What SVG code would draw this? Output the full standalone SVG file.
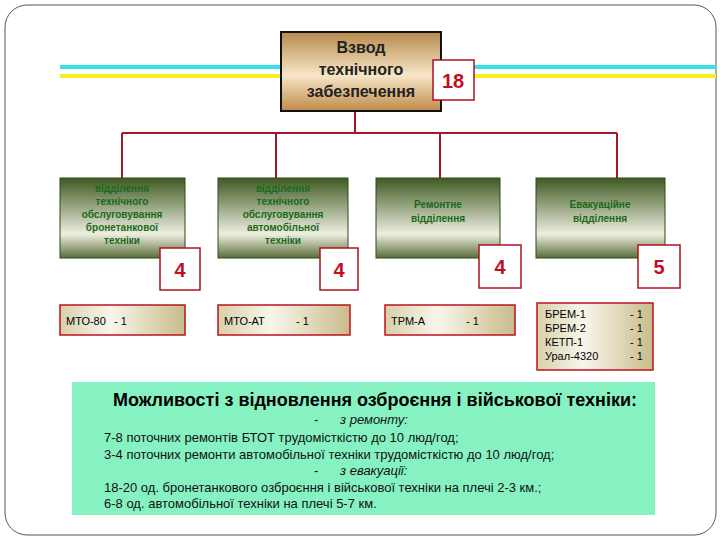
<svg xmlns="http://www.w3.org/2000/svg" width="720" height="540" viewBox="0 0 720 540">
<defs>
<linearGradient id="gtop" x1="0" y1="0" x2="0" y2="1"><stop offset="0" stop-color="#b98a4c"/><stop offset="0.55" stop-color="#f6e6c8"/><stop offset="1" stop-color="#c08a4a"/></linearGradient>
<linearGradient id="ggreen" x1="0" y1="0" x2="0" y2="1"><stop offset="0" stop-color="#3e5a22"/><stop offset="0.7" stop-color="#eeeee0"/><stop offset="1" stop-color="#5a6e3a"/></linearGradient>
<linearGradient id="gbot" x1="0" y1="0" x2="1" y2="0"><stop offset="0" stop-color="#d8d0a8"/><stop offset="0.4" stop-color="#f8f6ec"/><stop offset="1" stop-color="#c8bc8a"/></linearGradient>
<style>
.bx{fill:url(#ggreen);stroke:#2e4a1a;stroke-width:1}
.gt{font-family:"Liberation Sans",Arial,sans-serif;font-size:10px;font-weight:bold;fill:#1a6a1a;text-anchor:middle}
.badge{fill:#fff;stroke:#b01020;stroke-width:1.5}
.bt{font-family:"Liberation Sans",Arial,sans-serif;font-size:20px;font-weight:bold;fill:#c01020;text-anchor:middle}
.bb{fill:url(#gbot);stroke:#c01020;stroke-width:1.5}
.lt{font-family:"Liberation Sans",Arial,sans-serif;font-size:11px;fill:#000}
.pt{font-family:"Liberation Sans",Arial,sans-serif;font-size:13px;fill:#111}
.con{stroke:#a01828;stroke-width:2;fill:none}
</style>
</defs>
<rect x="0" y="0" width="720" height="540" fill="#fff"/>
<rect x="5" y="5" width="711" height="530" rx="22" fill="none" stroke="#555" stroke-width="1"/>
<rect x="60" y="65" width="656" height="4" fill="#33e0f0"/>
<rect x="60" y="74" width="656" height="4" fill="#f6f020"/>
<g id="connectors">
<path class="con" d="M355 111V133M122 133H617M122 133V178M276 133V178M440 133V178M617 133V178"/>
</g>
<g id="top">
<rect x="281" y="32" width="160" height="79" fill="url(#gtop)" stroke="#111" stroke-width="2"/>
<text font-family="Liberation Sans,Arial,sans-serif" font-size="16" font-weight="bold" text-anchor="middle" fill="#222"><tspan x="361" y="53">Взвод</tspan><tspan x="361" y="75">технічного</tspan><tspan x="361" y="97">забезпечення</tspan></text>
<rect class="badge" x="433" y="60" width="41" height="40"/><text class="bt" x="453" y="88">18</text>
</g>
<g id="n1"><rect class="bx" x="60" y="178" width="125" height="80"/><text class="gt"><tspan x="122" y="192">відділення</tspan><tspan x="122" y="205">технічного</tspan><tspan x="122" y="218">обслуговування</tspan><tspan x="122" y="231">бронетанкової</tspan><tspan x="122" y="244">техніки</tspan></text>
<rect class="badge" x="160" y="248" width="40" height="42"/><text class="bt" x="180" y="277">4</text></g>
<g id="n2"><rect class="bx" x="218" y="178" width="130" height="80"/><text class="gt"><tspan x="283" y="192">відділення</tspan><tspan x="283" y="205">технічного</tspan><tspan x="283" y="218">обслуговування</tspan><tspan x="283" y="231">автомобільної</tspan><tspan x="283" y="244">техніки</tspan></text>
<rect class="badge" x="320" y="248" width="38" height="42"/><text class="bt" x="339" y="277">4</text></g>
<g id="n3"><rect class="bx" x="376" y="178" width="124" height="80"/><text class="gt"><tspan x="438" y="208">Ремонтне</tspan><tspan x="438" y="222">відділення</tspan></text>
<rect class="badge" x="479" y="245" width="42" height="43"/><text class="bt" x="500" y="274">4</text></g>
<g id="n4"><rect class="bx" x="536" y="178" width="129" height="80"/><text class="gt"><tspan x="600" y="208">Евакуаційне</tspan><tspan x="600" y="222">відділення</tspan></text>
<rect class="badge" x="638" y="245" width="42" height="43"/><text class="bt" x="659" y="274">5</text></g>
<g id="b1"><rect class="bb" x="60" y="305" width="125" height="30"/><text class="lt" x="66" y="325">МТО-80</text><text class="lt" x="114" y="325">- 1</text></g>
<g id="b2"><rect class="bb" x="218" y="305" width="132" height="30"/><text class="lt" x="224" y="325">МТО-АТ</text><text class="lt" x="296" y="325">- 1</text></g>
<g id="b3"><rect class="bb" x="385" y="305" width="130" height="30"/><text class="lt" x="391" y="325">ТРМ-А</text><text class="lt" x="466" y="325">- 1</text></g>
<g id="b4"><rect class="bb" x="537" y="303" width="116" height="67"/><text class="lt"><tspan x="545" y="318">БРЕМ-1</tspan><tspan x="545" y="332">БРЕМ-2</tspan><tspan x="545" y="346">КЕТП-1</tspan><tspan x="545" y="360">Урал-4320</tspan></text><text class="lt"><tspan x="630" y="318">- 1</tspan><tspan x="630" y="332">- 1</tspan><tspan x="630" y="346">- 1</tspan><tspan x="630" y="360">- 1</tspan></text></g>
<g id="panel"><rect x="72" y="382" width="583" height="133" fill="#86f2c2"/>
<text x="375" y="406" font-family="Liberation Sans,Arial,sans-serif" font-size="18" font-weight="bold" text-anchor="middle" fill="#000">Можливості з відновлення озброєння і військової техніки:</text>
<text class="pt" x="314" y="424">-</text><text class="pt" x="340" y="424" font-style="italic">з ремонту:</text>
<text class="pt" x="104" y="442">7-8 поточних ремонтів БТОТ трудомісткістю до 10 люд/год;</text>
<text class="pt" x="104" y="459">3-4 поточних ремонти автомобільної техніки трудомісткістю до 10 люд/год;</text>
<text class="pt" x="314" y="475">-</text><text class="pt" x="340" y="475" font-style="italic">з евакуації:</text>
<text class="pt" x="104" y="492">18-20 од. бронетанкового озброєння і військової техніки на плечі 2-3 км.;</text>
<text class="pt" x="104" y="508">6-8 од. автомобільної техніки на плечі 5-7 км.</text>
</g>
</svg>
